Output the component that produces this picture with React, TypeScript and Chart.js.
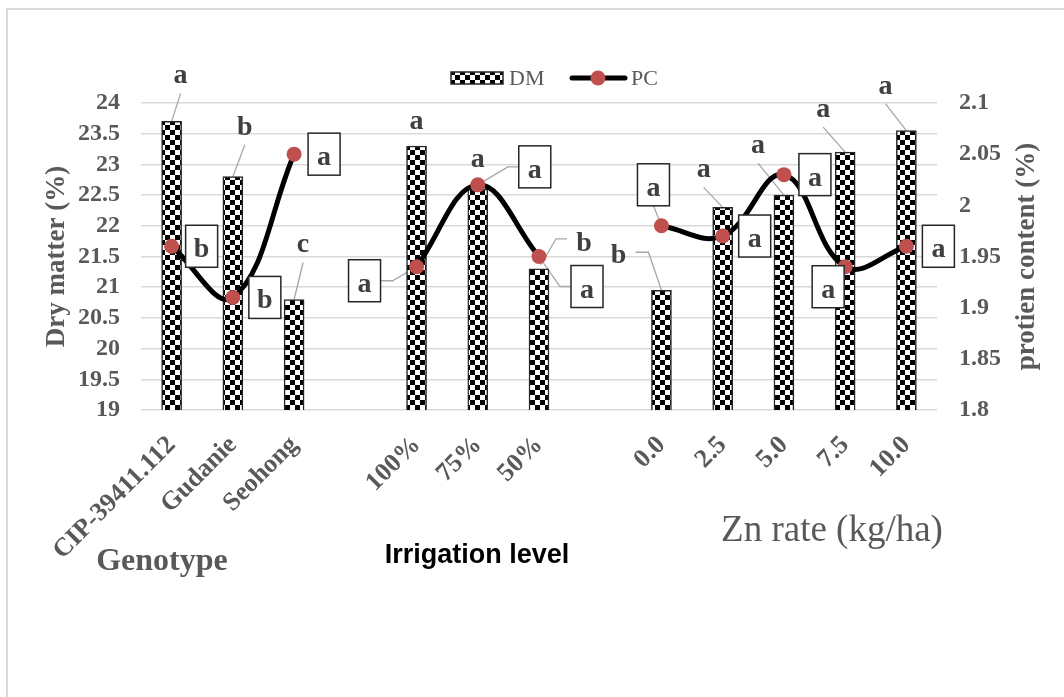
import { useEffect, useRef } from "react";
import { Chart, registerables } from "chart.js";

Chart.register(...registerables);

// Treatments along the x axis (blank slots separate the three groups)
const categories = [
  "CIP-39411.112", "Gudanie", "Seohong", "",
  "100%", "75%", "50%", "",
  "0.0", "2.5", "5.0", "7.5", "10.0",
];

// Dry matter (%) – bars, left axis
const dryMatter = [23.7, 22.8, 20.8, null, 23.3, 22.6, 21.3, null, 20.95, 22.3, 22.5, 23.2, 23.55];
// Protein content (%) – smoothed line, right axis
const proteinContent = [1.96, 1.91, 2.05, null, 1.94, 2.02, 1.95, null, 1.98, 1.97, 2.03, 1.94, 1.96];

// Mean separation letters
const dmLetters = ["a", "b", "c", null, "a", "a", "b", null, "b", "a", "a", "a", "a"];
const pcLetters = ["b", "b", "a", null, "a", "a", "a", null, "a", "a", "a", "a", "a"];

// Axis ranges
const dmRange = [19, 24, 0.5];
const pcRange = [1.8, 2.1, 0.05];

const groupTitles = ["Genotype", "Irrigation level", "Zn rate (kg/ha)"];
const dmTitle = "Dry matter (%)";
const pcTitle = "protien content (%)";

// Letter placement relative to the top of each bar: [dx, dy, leader style]
const dmLabelPlacement: any[] = [
  [9, -38, "down"], [12, -42, "down"], [9, -47, "down"], null,
  [0, -17, "none"], [0, -22, "none"], [45, -18, "elbowLeft"], null,
  [-43, -27, "elbowRight"], [-19, -30, "down"], [-26, -42, "down"], [-22, -35, "down"], [-21, -37, "down"],
];
// Box placement relative to each point: [dx, dy, leader style]
const pcLabelPlacement: any[] = [
  [30, 0, "none"], [32, 0, "none"], [30, 0, "none"], null,
  [-52, 14, "elbowRight"], [57, -18, "elbowLeft"], [48, 30, "elbowLeft"], null,
  [-8, -41, "below"], [32, 0, "none"], [31, 0, "none"], [-17, 20, "none"], [32, 0, "none"],
];

const SERIF = "'Liberation Serif', 'Times New Roman', serif";
const SANS = "'Liberation Sans', Arial, sans-serif";
const GREY = "#595959";
const LETTER = "#404040";
const RED = "#c0504d";
const BOX_W = 32;
const BOX_H = 42;

function makeChecker(): CanvasPattern | string {
  const c = document.createElement("canvas");
  c.width = 10;
  c.height = 10;
  const g = c.getContext("2d");
  if (!g) return "#000";
  g.fillStyle = "#ffffff";
  g.fillRect(0, 0, 10, 10);
  g.fillStyle = "#000000";
  g.fillRect(0, 0, 5, 5);
  g.fillRect(5, 5, 5, 5);
  return g.createPattern(c, "repeat") || "#000";
}

export default function App() {
  const ref = useRef<HTMLCanvasElement | null>(null);

  useEffect(() => {
    if (!ref.current) return;
    const checker = makeChecker();

    const annotate = {
      id: "annotate",
      beforeDraw(chart: any) {
        const { ctx } = chart;
        ctx.save();
        ctx.strokeStyle = "#d9d9d9";
        ctx.lineWidth = 2;
        ctx.beginPath();
        ctx.moveTo(7, 697);
        ctx.lineTo(7, 9);
        ctx.lineTo(1064, 9);
        ctx.stroke();
        ctx.restore();
      },
      beforeDatasetsDraw(chart: any) {
        const { ctx } = chart;
        const bars = chart.getDatasetMeta(1).data;
        const pts = chart.getDatasetMeta(0).data;
        ctx.save();
        ctx.strokeStyle = "#a6a6a6";
        ctx.lineWidth = 1.3;
        dmLabelPlacement.forEach((p, i) => {
          if (!p || !dmLetters[i]) return;
          const bx = bars[i].x;
          const by = bars[i].y;
          const lx = bx + p[0];
          const ly = by + p[1];
          ctx.beginPath();
          if (p[2] === "down") {
            ctx.moveTo(lx, ly + 10);
            ctx.lineTo(bx, by);
          } else if (p[2] === "elbowLeft") {
            ctx.moveTo(lx - 17, ly - 12);
            ctx.lineTo(lx - 28, ly - 12);
            ctx.lineTo(bx + 2, by - 4);
          } else if (p[2] === "elbowRight") {
            ctx.moveTo(lx + 17, ly - 11);
            ctx.lineTo(lx + 30, ly - 11);
            ctx.lineTo(bx, by);
          }
          ctx.stroke();
        });
        pcLabelPlacement.forEach((p, i) => {
          if (!p || !pcLetters[i]) return;
          const px = pts[i].x;
          const py = pts[i].y;
          const cx = px + p[0];
          const cy = py + p[1];
          ctx.beginPath();
          if (p[2] === "elbowLeft") {
            ctx.moveTo(cx - BOX_W / 2, cy);
            ctx.lineTo(cx - BOX_W / 2 - 11, cy);
            ctx.lineTo(px, py);
          } else if (p[2] === "elbowRight") {
            ctx.moveTo(cx + BOX_W / 2, cy);
            ctx.lineTo(cx + BOX_W / 2 + 12, cy);
            ctx.lineTo(px, py);
          } else if (p[2] === "below") {
            ctx.moveTo(cx, cy + BOX_H / 2);
            ctx.lineTo(px, py);
          }
          ctx.stroke();
        });
        ctx.restore();
      },
      afterDatasetsDraw(chart: any) {
        const { ctx } = chart;
        const bars = chart.getDatasetMeta(1).data;
        const pts = chart.getDatasetMeta(0).data;
        ctx.save();

        // letters above the bars
        ctx.font = `bold 28px ${SERIF}`;
        ctx.fillStyle = LETTER;
        ctx.textAlign = "center";
        ctx.textBaseline = "alphabetic";
        dmLabelPlacement.forEach((p, i) => {
          if (!p || !dmLetters[i]) return;
          ctx.fillText(dmLetters[i], bars[i].x + p[0], bars[i].y + p[1]);
        });

        // boxed letters beside the points
        pcLabelPlacement.forEach((p, i) => {
          if (!p || !pcLetters[i]) return;
          const cx = pts[i].x + p[0];
          const cy = pts[i].y + p[1];
          ctx.fillStyle = "#ffffff";
          ctx.fillRect(cx - BOX_W / 2, cy - BOX_H / 2, BOX_W, BOX_H);
          ctx.strokeStyle = "#262626";
          ctx.lineWidth = 1.5;
          ctx.strokeRect(cx - BOX_W / 2, cy - BOX_H / 2, BOX_W, BOX_H);
          ctx.fillStyle = LETTER;
          ctx.fillText(pcLetters[i], cx, cy + 11);
        });

        // legend
        ctx.fillStyle = checker;
        ctx.fillRect(451, 72, 52, 12);
        ctx.strokeStyle = "#262626";
        ctx.lineWidth = 1.5;
        ctx.strokeRect(451, 72, 52, 12);
        ctx.font = `22px ${SERIF}`;
        ctx.fillStyle = GREY;
        ctx.textAlign = "left";
        ctx.fillText("DM", 509, 85);
        ctx.strokeStyle = "#000";
        ctx.lineWidth = 5;
        ctx.lineCap = "round";
        ctx.beginPath();
        ctx.moveTo(572, 78);
        ctx.lineTo(625, 78);
        ctx.stroke();
        ctx.fillStyle = RED;
        ctx.beginPath();
        ctx.arc(598, 78, 7.5, 0, Math.PI * 2);
        ctx.fill();
        ctx.fillStyle = GREY;
        ctx.fillText("PC", 631, 85);

        // axis titles, reading upwards
        ctx.font = `bold 27px ${SERIF}`;
        ctx.textAlign = "center";
        const mid = (chart.chartArea.top + chart.chartArea.bottom) / 2;
        ctx.save();
        ctx.translate(64, mid);
        ctx.rotate(-Math.PI / 2);
        ctx.fillText(dmTitle, 0, 0);
        ctx.restore();
        ctx.save();
        ctx.translate(1034, mid);
        ctx.rotate(-Math.PI / 2);
        ctx.fillText(pcTitle, 0, 0);
        ctx.restore();

        // group captions under the x axis
        ctx.font = `bold 32px ${SERIF}`;
        ctx.fillStyle = GREY;
        ctx.fillText(groupTitles[0], 162, 570);
        ctx.font = `bold 27px ${SANS}`;
        ctx.fillStyle = "#000000";
        ctx.fillText(groupTitles[1], 477, 563);
        ctx.font = `37px ${SERIF}`;
        ctx.fillStyle = GREY;
        ctx.fillText(groupTitles[2], 832, 541);

        ctx.restore();
      },
    };

    const fmt = (v: any) => String(+(+v).toFixed(2));
    const tickFont = { family: SERIF, size: 24, weight: "bold" as const };

    const chart = new Chart(ref.current, {
      type: "bar",
      data: {
        labels: categories,
        datasets: [
          {
            type: "line",
            label: "PC",
            data: proteinContent,
            yAxisID: "y1",
            borderColor: "#000000",
            borderWidth: 5,
            tension: 0.4,
            spanGaps: false,
            pointRadius: 7.5,
            pointHoverRadius: 7.5,
            pointBackgroundColor: RED,
            pointBorderWidth: 0,
            order: 0,
          } as any,
          {
            type: "bar",
            label: "DM",
            data: dryMatter,
            yAxisID: "y",
            backgroundColor: checker as any,
            borderColor: "#262626",
            borderWidth: 1.5,
            barThickness: 20,
            order: 1,
          } as any,
        ],
      },
      options: {
        responsive: false,
        animation: false,
        devicePixelRatio: 1,
        events: [],
        layout: { padding: { top: 103, bottom: 0, left: 0, right: 0 } },
        plugins: { legend: { display: false }, tooltip: { enabled: false } },
        scales: {
          x: {
            grid: { display: false, drawTicks: false },
            border: { display: false },
            ticks: {
              autoSkip: false,
              minRotation: 45,
              maxRotation: 45,
              padding: 20,
              color: GREY,
              font: { family: SERIF, size: 26, weight: "bold" as const },
            },
            afterFit: (s: any) => { s.height = 287; },
          },
          y: {
            position: "left",
            min: dmRange[0],
            max: dmRange[1],
            grid: { color: "#d9d9d9", lineWidth: 1.5, drawTicks: false },
            border: { display: false },
            ticks: { autoSkip: false, stepSize: dmRange[2], padding: 21, color: GREY, font: tickFont, callback: fmt },
            afterFit: (s: any) => { s.width = 141; },
          },
          y1: {
            position: "right",
            min: pcRange[0],
            max: pcRange[1],
            grid: { display: false, drawTicks: false },
            border: { display: false },
            ticks: { autoSkip: false, stepSize: pcRange[2], padding: 22, color: GREY, font: tickFont, callback: fmt },
            afterFit: (s: any) => { s.width = 127; },
          },
        },
      },
      plugins: [annotate],
    });

    return () => chart.destroy();
  }, []);

  return (
    <div style={{ position: "absolute", left: 0, top: 0, width: 1064, height: 697, background: "#ffffff" }}>
      <canvas ref={ref} width={1064} height={697} style={{ display: "block" }} />
    </div>
  );
}
